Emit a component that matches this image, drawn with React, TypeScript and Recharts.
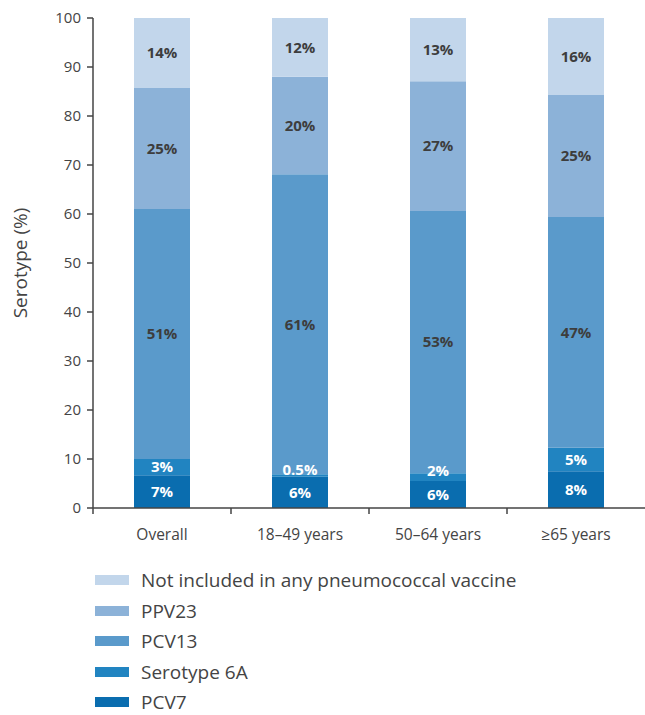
import { BarChart, Bar, XAxis, YAxis, LabelList } from "recharts";

const categories = ["Overall", "18–49 years", "50–64 years", "≥65 years"];

const pcv7 = [6.7, 6.4, 5.5, 7.5];
const serotype6A = [3.3, 0.5, 1.6, 4.8];
const pcv13 = [51, 61.2, 53.5, 47.1];
const ppv23 = [24.7, 19.9, 26.5, 24.9];
const notIncluded = [14.3, 12, 12.9, 15.7];

const pcv7Labels = ["7%", "6%", "6%", "8%"];
const serotype6ALabels = ["3%", "0.5%", "2%", "5%"];
const pcv13Labels = ["51%", "61%", "53%", "47%"];
const ppv23Labels = ["25%", "20%", "27%", "25%"];
const notIncludedLabels = ["14%", "12%", "13%", "16%"];

const yTicks = [0, 10, 20, 30, 40, 50, 60, 70, 80, 90, 100];

const FONT = "'Open Sans', sans-serif";
const AXIS = "#444";

const series = [
  { key: "pcv7", name: "PCV7", color: "#0a6daf", values: pcv7, labels: pcv7Labels, text: "#fff" },
  { key: "sero6a", name: "Serotype 6A", color: "#2184c1", values: serotype6A, labels: serotype6ALabels, text: "#fff" },
  { key: "pcv13", name: "PCV13", color: "#5a9acb", values: pcv13, labels: pcv13Labels, text: "#3d3d3d" },
  { key: "ppv23", name: "PPV23", color: "#8cb2d8", values: ppv23, labels: ppv23Labels, text: "#3d3d3d" },
  { key: "none", name: "Not included in any pneumococcal vaccine", color: "#c2d6eb", values: notIncluded, labels: notIncludedLabels, text: "#3d3d3d" },
];

const data = categories.map((name, i) => {
  const row: Record<string, string | number> = { name };
  series.forEach((s) => {
    row[s.key] = s.values[i];
    row[s.key + "Label"] = s.labels[i];
  });
  return row;
});

function makeLabel(color: string) {
  return (props: any) => {
    const { x, y, width, height, value } = props;
    const small = height < 12;
    const cy = small ? y + height / 2 - 6 : y + height / 2;
    return (
      <text
        x={x + width / 2}
        y={cy}
        dy="0.35em"
        textAnchor="middle"
        fill={color}
        fontFamily={FONT}
        fontWeight={700}
        fontSize={15}
      >
        {value}
      </text>
    );
  };
}

const XTick = (props: any) => {
  const { x, y, payload } = props;
  const half = payload && payload.offset ? payload.offset : 69;
  return (
    <g>
      <line x1={x - half} x2={x - half} y1={y - 8} y2={y - 2} stroke={AXIS} strokeWidth={1.5} />
      <text x={x} y={y + 24} textAnchor="middle" fill={AXIS} fontFamily={FONT} fontSize={15.5}>
        {payload.value}
      </text>
    </g>
  );
};

export default function App() {
  return (
    <div style={{ position: "absolute", left: 0, top: 0, width: 645, height: 715, background: "#fff" }}>
      <BarChart width={645} height={560} data={data} margin={{ top: 18, right: 0, bottom: 20, left: 0 }} barSize={56}>
        <XAxis
          dataKey="name"
          height={32}
          tick={<XTick />}
          tickLine={false}
          axisLine={{ stroke: AXIS, strokeWidth: 1.5 }}
          interval={0}
        />
        <YAxis
          width={93}
          domain={[0, 100]}
          ticks={yTicks}
          interval={0}
          tick={{ fill: AXIS, fontFamily: FONT, fontSize: 15 }}
          tickLine={{ stroke: AXIS, strokeWidth: 1.5 }}
          tickSize={6}
          tickMargin={6}
          axisLine={{ stroke: AXIS, strokeWidth: 1.5 }}
          label={{
            value: "Serotype (%)",
            angle: -90,
            position: "insideLeft",
            offset: 20,
            style: { textAnchor: "middle", fill: AXIS, fontFamily: FONT, fontSize: 19 },
          }}
        />
        {series.map((s) => (
          <Bar key={s.key} dataKey={s.key} stackId="a" fill={s.color} isAnimationActive={false}>
            <LabelList dataKey={s.key + "Label"} content={makeLabel(s.text)} />
          </Bar>
        ))}
      </BarChart>
      <div style={{ position: "absolute", left: 95, top: 565, fontFamily: FONT, color: AXIS, fontSize: 19 }}>
        {[...series].reverse().map((s) => (
          <div key={s.key} style={{ display: "flex", alignItems: "center", height: 30.5 }}>
            <div style={{ width: 34, height: 10, background: s.color, marginRight: 12 }} />
            <span style={{ lineHeight: "18px" }}>{s.name}</span>
          </div>
        ))}
      </div>
    </div>
  );
}
